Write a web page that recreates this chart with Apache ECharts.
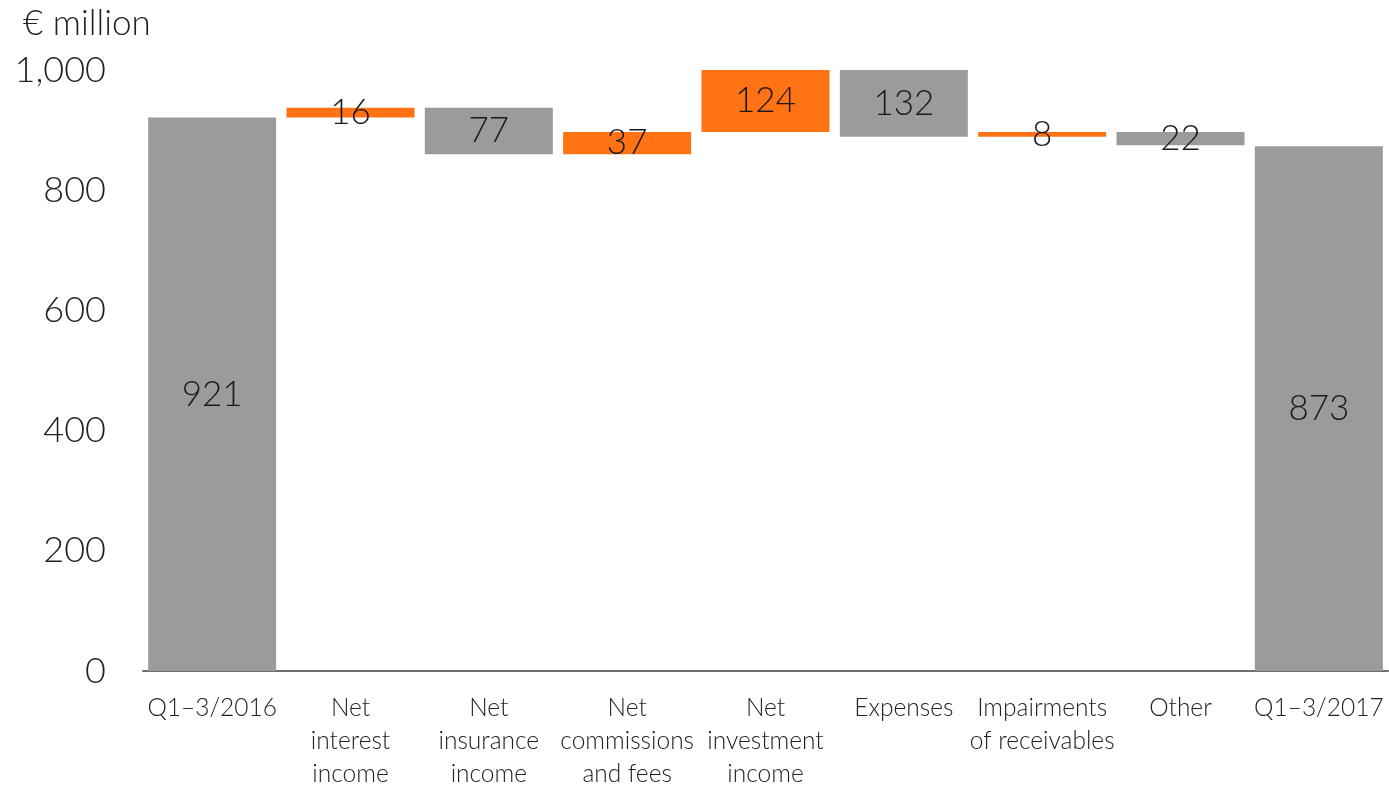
<!DOCTYPE html>
<html><head><meta charset="utf-8">
<script src="https://cdn.jsdelivr.net/npm/echarts@6/dist/echarts.min.js"></script>
<style>html,body{margin:0;padding:0;background:#fff}#c{width:1389px;height:791px}</style>
</head><body><div id="c"></div>
<script>
const categories = ['Q1–3/2016','Net\ninterest\nincome','Net\ninsurance\nincome','Net\ncommissions\nand fees','Net\ninvestment\nincome','Expenses','Impairments\nof receivables','Other','Q1–3/2017'];
const startTotal = 921;
const deltas = [16, -77, 37, 124, -132, 8, -22];
const endTotal = 873;
const yTicks = [0, 200, 400, 600, 800, 1000];

const ORANGE = '#ff7315', GRAY = '#9b9b9b';
const base = [], vis = [], labels = [];
base.push(0); vis.push({value: startTotal, itemStyle:{color:GRAY}}); labels.push(String(startTotal));
let cur = startTotal;
deltas.forEach(d => {
  const lo = Math.min(cur, cur + d);
  base.push(lo);
  vis.push({value: Math.abs(d), itemStyle:{color: d >= 0 ? ORANGE : GRAY}});
  labels.push(String(Math.abs(d)));
  cur += d;
});
base.push(0); vis.push({value: endTotal, itemStyle:{color:GRAY}}); labels.push(String(endTotal));

const FONT = 'Lato';
const chart = echarts.init(document.getElementById('c'), null, {renderer:'canvas'});
chart.setOption({
  animation:false,
  title:{text:'€ million', left:18, top:1, textStyle:{fontFamily:FONT, fontWeight:300, fontSize:35, color:'#222'}},
  grid:{left:143, right:1, top:70, bottom:109, containLabel:false},
  xAxis:{type:'category', data:categories,
    axisLine:{lineStyle:{color:'#6e6e6e', width:2}}, axisTick:{show:false},
    axisLabel:{interval:0, fontFamily:FONT, fontWeight:300, fontSize:24.5, color:'#222', lineHeight:33, margin:21}},
  yAxis:{type:'value', min:yTicks[0], max:yTicks[yTicks.length-1], interval:200,
    splitLine:{show:false}, axisLine:{show:false}, axisTick:{show:false},
    axisLabel:{fontFamily:FONT, fontWeight:300, fontSize:36, color:'#222', margin:37,
      formatter:v=>v.toLocaleString('en-US')}},
  series:[
    {type:'bar', stack:'w', data:base, barWidth:128, itemStyle:{color:'transparent'}, silent:true},
    {type:'bar', stack:'w', data:vis, barWidth:128, clip:true,
      label:{show:true, position:'inside', fontFamily:FONT, fontWeight:300, fontSize:35, color:'#1a1a1a',
        formatter:p=>labels[p.dataIndex]}}
  ]
});
</script></body></html>
